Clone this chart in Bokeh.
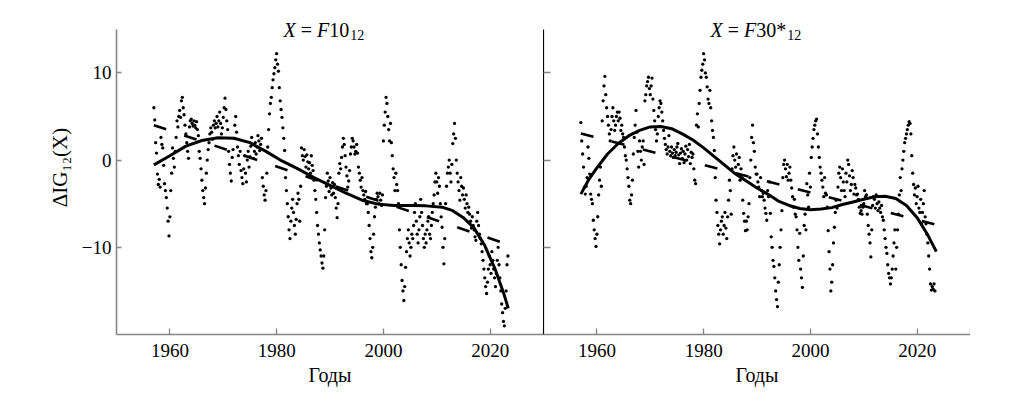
import numpy as np
from bokeh.plotting import figure
from bokeh.layouts import row
from bokeh.models import Label, FixedTicker, Range1d
from bokeh.embed import file_html
from bokeh.resources import INLINE

# ---------------- data ----------------
START_YEAR = 1957
PER_YEAR = 6   # values listed every two months

f10_values = [
    6.0, 4.6, 2.0, 0.8, -1.6, -2.8,        # 1957
    -2.2, -3.1, 2.6, 1.8, 1.4, -0.6,       # 1958
    -2.7, -3.5, -4.3, -5.5, -7.0, -8.7,    # 1959
    -6.5, -3.5, -1.5, 1.4, 0.2, -0.8,      # 1960
    1.0, 2.6, 4.5, 3.8, 5.0, 5.7,          # 1961
    4.9, 6.8, 7.2, 6.0, 5.2, 4.0,          # 1962
    3.0, 2.0, 1.0, 0.2, 3.8, 4.5,          # 1963
    4.7, 4.2, 3.9, 4.5, 4.0, 3.7,          # 1964
    4.4, 3.5, 2.8, 1.0, 0.2, -1.0,         # 1965
    -2.3, -3.5, -4.3, -5.0, -3.2, -1.5,    # 1966
    0.0, 1.2, 2.0, 3.0, 3.7, 3.2,          # 1967
    2.4, 4.0, 4.5, 3.7, 4.2, 5.0,          # 1968
    3.8, 4.5, 5.5, 4.2, 3.0, 3.7,          # 1969
    4.9, 6.0, 7.1, 5.8, 4.5, 3.5,          # 1970
    1.0, -0.5, -1.5, -2.4, 0.3, 1.2,       # 1971
    2.5, 4.0, 5.0, 3.2, 1.5, 0.5,          # 1972
    -0.5, 1.0, -1.2, -2.0, -2.7, -1.0,     # 1973
    0.5, -1.5, -2.5, 0.0, 1.0, -0.8,       # 1974
    0.4, 1.6, 2.6, 1.8, 0.2, 1.0,          # 1975
    2.0, 0.7, 1.5, 2.8, 2.2, 1.1,          # 1976
    1.8, 2.5, -2.0, -3.0, -4.0, -4.6,      # 1977
    -3.5, -1.5, 1.5, 3.5, 5.3, 6.5,        # 1978
    7.2, 8.3, 9.2, 9.9, 10.6, 11.5,        # 1979
    12.2, 11.0, 10.2, 8.3, 6.8, 5.8,       # 1980
    4.9, 3.7, 2.5, 1.1, -2.0, -3.5,        # 1981
    -5.0, -6.5, -8.0, -9.0, -7.0, -5.5,    # 1982
    -4.5, -6.0, -7.5, -8.5, -6.8, -5.0,    # 1983
    -3.8, -4.5, -7.0, -3.0, 1.4, 0.5,      # 1984
    0.0, 1.2, 0.4, -0.8, 0.6, -0.2,        # 1985
    -1.0, -0.3, -1.5, 0.5, -0.6, -1.2,     # 1986
    -2.3, -3.5, -4.5, -6.0, -7.5, -8.5,    # 1987
    -9.5, -10.3, -11.0, -11.8, -12.4, -11.0,  # 1988
    -8.0, -4.3, -3.0, -1.5, -2.4, -3.6,    # 1989
    -2.0, -3.2, -4.0, -2.6, -3.8, -2.8,    # 1990
    -4.3, -5.5, -6.6, -5.0, -1.5, -0.4,    # 1991
    -1.0, 0.3, 1.5, 2.5, 1.8, 0.5,         # 1992
    -0.8, -1.8, -3.1, -2.4, -1.2, 0.7,     # 1993
    1.5, 2.5, 2.2, 1.5, 0.7, 1.0,          # 1994
    1.8, 0.8, -0.8, -1.5, -2.3, -3.1,      # 1995
    -2.0, -3.5, -4.0, -4.5, -3.6, -5.0,    # 1996
    -5.0, -6.0, -7.5, -9.0, -10.5, -11.2,  # 1997
    -10.0, -8.5, -6.5, -5.4, -4.5, -3.8,   # 1998
    -4.2, -5.0, -3.8, -4.6, -5.2, -4.0,    # 1999
    2.2, 4.0, 5.5, 7.2, 6.5, 5.0,          # 2000
    3.5, 2.2, 4.2, 2.0, 0.5, -1.0,         # 2001
    -2.0, -3.5, -1.5, -2.8, -3.5, -5.0,    # 2002
    -8.0, -10.0, -12.0, -13.8, -15.0, -16.1,  # 2003
    -14.5, -12.3, -10.5, -9.0, -8.0, -9.5,    # 2004
    -11.0, -10.0, -8.5, -9.0, -7.5, -6.0,     # 2005
    -5.0, -7.0, -8.5, -9.5, -8.0, -6.5,    # 2006
    -4.5, -6.0, -7.5, -9.0, -10.0, -8.5,   # 2007
    -9.5, -8.0, -7.0, -6.5, -8.5, -9.0,    # 2008
    -7.5, -6.0, -5.0, -4.0, -2.5, -1.5,    # 2009
    -2.5, -3.8, -2.0, -3.0, -5.0, -6.5,    # 2010
    -7.7, -10.0, -11.9, -9.0, -5.0, -3.0,  # 2011
    -1.5, -0.8, 0.0, -1.5, -2.5, -0.5,     # 2012
    1.9, 3.0, 4.2, 2.5, 0.0, -1.5,         # 2013
    -2.5, -3.5, -4.6, -2.0, -3.0, -4.0,    # 2014
    -3.2, -4.5, -5.5, -4.0, -5.0, -6.0,    # 2015
    -5.4, -6.2, -7.0, -7.8, -6.5, -7.5,    # 2016
    -8.0, -8.8, -9.2, -7.0, -6.0, -7.5,    # 2017
    -8.5, -9.0, -9.6, -10.5, -11.5, -12.5,    # 2018
    -13.5, -14.5, -15.3, -14.0, -12.5, -11.0, # 2019
    -12.0, -13.0, -10.5, -11.5, -12.5, -13.5, # 2020
    -14.5, -13.0, -11.5, -10.0, -12.0, -13.5, # 2021
    -15.0, -16.5, -17.5, -18.5, -19.0, -17.0, # 2022
    -15.0, -12.0, -11.0,                      # 2023
]

f30_values = [
    4.3, 2.2, 0.7, -0.8, -3.1, -3.9,       # 1957
    -3.0, -2.0, 1.5, 0.2, -1.6, -3.9,      # 1958
    -4.5, -5.0, -6.9, -8.0, -9.0, -9.9,    # 1959
    -8.5, -6.5, -4.0, -2.3, -0.8, -3.0,    # 1960
    4.5, 6.8, 8.5, 9.6, 7.5, 6.0,          # 1961
    5.0, 4.0, 3.0, 2.2, 3.5, 5.0,          # 1962
    6.0, 4.5, 3.4, 4.0, 5.0, 5.5,          # 1963
    4.5, 5.5, 4.8, 3.4, 4.0, 3.0,          # 1964
    2.6, 1.5, 0.5, 0.0, -1.0, -2.0,        # 1965
    -3.0, -4.6, -5.0, -4.0, -2.3, 0.7,     # 1966
    2.6, 4.0, 5.7, 3.2, 1.0, -0.8,         # 1967
    2.2, 1.0, 0.0, 1.5, 2.2, -0.5,         # 1968
    6.8, 7.5, 8.5, 9.0, 9.5, 8.2,          # 1969
    7.5, 8.5, 9.4, 7.0, 5.7, 4.5,          # 1970
    3.5, 2.2, 3.0, 5.0, 6.0, 6.8,          # 1971
    6.5, 5.5, 4.5, 3.4, 2.5, 1.8,          # 1972
    1.2, 0.7, 1.5, 2.8, 1.0, 0.5,          # 1973
    1.5, 0.8, 0.3, 1.2, 0.5, 0.9,          # 1974
    1.5, 1.9, 0.6, -0.4, 0.8, 1.3,         # 1975
    0.2, 1.0, -0.3, 0.7, 1.6, 0.0,         # 1976
    1.2, 0.4, 1.8, -0.4, 0.9, 0.3,         # 1977
    0.7, -1.0, -2.3, -2.7, 4.0, 5.3,       # 1978
    3.8, 6.5, 8.0, 9.5, 10.3, 11.0,        # 1979
    12.2, 11.5, 10.0, 9.5, 8.4, 7.0,       # 1980
    6.5, 8.0, 6.0, 4.5, 3.4, 2.6,          # 1981
    1.1, -2.0, -4.6, -6.0, -7.5, -8.5,     # 1982
    -9.6, -8.0, -7.0, -6.5, -8.5, -7.5,    # 1983
    -6.0, -7.8, -9.0, -6.5, -4.6, -2.3,    # 1984
    -3.5, -6.2, -1.0, 0.5, 1.5, 0.0,       # 1985
    -0.8, 0.7, -1.6, -0.5, 0.3, -2.3,      # 1986
    -1.0, -2.0, -4.6, -6.1, -7.0, -8.1,    # 1987
    -7.0, -8.0, -6.5, -5.0, -2.0, 0.0,     # 1988
    2.6, 4.0, 2.0, 1.0, -0.8, -1.6,        # 1989
    -1.6, -2.5, -3.1, -4.2, -2.0, -3.5,    # 1990
    -4.2, -3.8, -4.6, -5.5, -6.1, -6.9,    # 1991
    -3.5, -4.2, -2.5, -6.1, -8.8, -10.0,   # 1992
    -11.5, -12.2, -13.5, -15.0, -16.0, -16.8,  # 1993
    -14.0, -12.0, -10.0, -8.0, -5.8, -2.0,     # 1994
    -0.5, 0.0, -1.0, -1.9, -0.5, -2.3,     # 1995
    -1.5, -0.8, -2.3, -3.2, -4.2, -5.4,    # 1996
    -4.5, -6.2, -6.5, -8.0, -10.0, -11.5,  # 1997
    -8.4, -12.5, -13.5, -14.6, -11.0, -7.5,  # 1998
    -6.2, -8.0, -2.7, -4.0, -5.4, -1.5,    # 1999
    -3.1, 0.3, 1.5, 2.5, 3.5, 4.0,         # 2000
    4.5, 4.7, 3.0, 1.5, 0.3, -0.8,         # 2001
    -1.5, -2.3, -3.1, -4.2, -2.0, -3.8,    # 2002
    -4.0, -5.4, -8.1, -10.5, -12.5, -15.0, # 2003
    -14.0, -12.0, -9.5, -7.7, -6.0, -4.6,  # 2004
    -5.5, -3.1, -1.5, -0.8, -2.0, -3.5,    # 2005
    -1.0, -2.5, -3.5, -4.2, -1.5, -2.5,    # 2006
    0.0, -0.5, -1.8, -3.5, -2.8, -1.2,     # 2007
    -2.0, -3.9, -2.8, -3.2, -4.0, -3.9,    # 2008
    -4.5, -5.4, -6.1, -5.8, -6.2, -5.4,    # 2009
    -5.0, -3.5, -4.2, -4.0, -6.2, -7.5,    # 2010
    -8.5, -9.5, -11.1, -8.0, -5.2, -4.2,   # 2011
    -4.5, -5.5, -4.0, -5.0, -5.8, -4.8,    # 2012
    -5.5, -6.0, -5.2, -6.5, -6.9, -8.0,    # 2013
    -9.0, -10.0, -10.7, -12.0, -13.0, -13.5,   # 2014
    -14.2, -13.5, -12.5, -11.0, -9.5, -8.0,    # 2015
    -12.5, -10.0, -8.0, -6.2, -4.0, -2.0,      # 2016
    -3.5, -1.0, 0.0, 1.0, 2.0, 2.5,        # 2017
    3.0, 3.5, 4.0, 4.4, 4.2, 3.0,          # 2018
    0.5, -1.5, -2.8, -4.0, -3.2, -5.0,     # 2019
    -4.2, -3.0, -5.5, -6.0, -4.5, -7.3,    # 2020
    -6.0, -5.0, -3.5, -6.5, -7.3, -8.5,    # 2021
    -9.5, -11.0, -12.5, -14.2, -14.9, -14.5,   # 2022
    -14.8, -14.2, -15.0,                       # 2023
]

# smooth (polynomial) fit curves, read at knots
f10_curve_years = [1957, 1960, 1963, 1966, 1969, 1972, 1975, 1978, 1981, 1984, 1987,
                   1990, 1993, 1996, 1999, 2002, 2005, 2008, 2011, 2013, 2015, 2017,
                   2019, 2021, 2022.5, 2023.4]
f10_curve_values = [-0.55, 0.5, 1.6, 2.25, 2.55, 2.5, 2.0, 1.0, -0.1, -1.0, -2.0,
                    -2.9, -3.8, -4.6, -5.05, -5.2, -5.2, -5.25, -5.4, -5.8, -6.6, -7.8,
                    -9.8, -12.6, -15.2, -17.0]

f30_curve_years = [1957, 1958.5, 1960, 1962, 1964, 1966, 1968, 1970, 1972, 1974, 1976,
                   1978, 1980, 1982, 1984, 1986, 1988, 1990, 1992, 1994, 1996, 1998,
                   2000, 2002, 2004, 2006, 2008, 2010, 2012, 2014, 2016, 2018, 2020,
                   2022, 2023.6]
f30_curve_values = [-3.9, -2.2, -0.9, 0.7, 1.9, 2.8, 3.4, 3.8, 3.85, 3.6, 3.0,
                    2.3, 1.4, 0.4, -0.6, -1.6, -2.4, -3.2, -3.9, -4.7, -5.2, -5.55,
                    -5.7, -5.6, -5.45, -5.1, -4.8, -4.5, -4.2, -4.15, -4.4, -5.2, -6.6,
                    -8.6, -10.5]

# linear trends (dashed)
trend_years = [1957, 2023.5]
f10_trend = [4.0, -9.7]
f30_trend = [3.05, -7.4]

x_ticks = [1960, 1980, 2000, 2020]
y_ticks = [-10, 0, 10]
y_tick_labels = {-10: "\u221210", 0: "0", 10: "10"}
x_label = "Годы"
y_label = "\u0394IG\u2081\u2082(X)"

# ---------------- styling ----------------
SERIF = "Liberation Serif"
AXIS_GREY = "#858585"
Y_LO, Y_HI = -20, 15          # value range of the axes
Y_TOP = 18.3                  # frame reaches up to the canvas top (room for titles)
# advance widths (em) of Liberation Serif glyphs used in the hand-set titles
EM = {"X": 0.611, "F": 0.611, "=": 0.564, "10": 1.0, "30*": 1.5, "12": 1.0}
SPACE = 0.25


def make_panel(values, cx, cy, trend, left_border):
    p = figure(frame_width=427, frame_height=334,
               x_range=Range1d(1950, 2030), y_range=Range1d(Y_LO, Y_TOP),
               output_backend="svg", toolbar_location=None,
               min_border_left=left_border, min_border_right=0,
               min_border_top=0, min_border_bottom=62,
               outline_line_color=None, background_fill_color="white",
               border_fill_color="white")
    p.xgrid.visible = False
    p.ygrid.visible = False

    xs = START_YEAR + np.arange(len(values)) / PER_YEAR
    p.scatter(xs, values, size=3.3, color="black", line_color=None)
    p.line(trend_years, trend, line_color="black", line_width=2.6, line_dash="13 19")
    p.line(cx, cy, line_color="black", line_width=3)

    xa = p.xaxis[0]
    xa.ticker = FixedTicker(ticks=x_ticks, minor_ticks=[2030])
    xa.axis_line_color = AXIS_GREY
    xa.axis_line_width = 1.6
    xa.major_tick_line_color = AXIS_GREY
    xa.minor_tick_line_color = AXIS_GREY
    xa.major_tick_line_width = 1.3
    xa.minor_tick_line_width = 1.3
    xa.major_tick_in = 6
    xa.major_tick_out = 0
    xa.minor_tick_in = 6
    xa.minor_tick_out = 0
    xa.major_label_text_font = SERIF
    xa.major_label_text_font_size = "19px"
    xa.major_label_text_color = "black"
    xa.major_label_standoff = 9
    xa.axis_label = x_label
    xa.axis_label_text_font = SERIF
    xa.axis_label_text_font_size = "20px"
    xa.axis_label_text_font_style = "normal"
    xa.axis_label_text_color = "black"
    xa.axis_label_standoff = 4

    ya = p.yaxis[0]
    ya.bounds = (Y_LO, Y_HI)
    ya.major_tick_out = 0
    ya.minor_tick_out = 0
    return p


def title(p, parts):
    """parts: (text, italic, subscript, leading gap in em)"""
    dx = -46.5
    for text, italic, sub, gap in parts:
        size = 14 if sub else 20
        dx += gap * 20 + (1 if sub else 0)
        p.add_layout(Label(x=1990, y=Y_HI, x_offset=dx, y_offset=-6 if sub else -1,
                           text=text, text_font=SERIF, text_font_size=f"{size}px",
                           text_font_style="italic" if italic else "normal",
                           text_color="black", text_align="left",
                           text_baseline="alphabetic"))
        dx += EM[text] * size


p1 = make_panel(f10_values, f10_curve_years, f10_curve_values, f10_trend, 116)
p2 = make_panel(f30_values, f30_curve_years, f30_curve_values, f30_trend, 0)

# left panel y axis: grey, labelled
ya1 = p1.yaxis[0]
ya1.ticker = FixedTicker(ticks=y_ticks)
ya1.axis_line_color = AXIS_GREY
ya1.axis_line_width = 1.6
ya1.major_tick_line_color = AXIS_GREY
ya1.major_tick_line_width = 1.3
ya1.major_tick_in = 5
ya1.minor_tick_in = 0
ya1.major_label_overrides = y_tick_labels
ya1.major_label_text_font = SERIF
ya1.major_label_text_font_size = "19px"
ya1.major_label_text_color = "black"
ya1.major_label_standoff = 5
ya1.axis_label = y_label
ya1.axis_label_text_font = SERIF
ya1.axis_label_text_font_size = "21px"
ya1.axis_label_text_font_style = "normal"
ya1.axis_label_text_color = "black"
ya1.axis_label_standoff = 7

# right panel y axis: black line, unlabelled ticks
ya2 = p2.yaxis[0]
ya2.ticker = FixedTicker(ticks=[], minor_ticks=y_ticks)
ya2.axis_line_color = "black"
ya2.axis_line_width = 1.2
ya2.minor_tick_line_color = AXIS_GREY
ya2.minor_tick_line_width = 1.3
ya2.minor_tick_in = 7
ya2.major_label_standoff = 0

title(p1, [("X", True, False, 0), ("=", False, False, SPACE), ("F", True, False, SPACE),
           ("10", False, False, 0), ("12", False, True, 0)])
title(p2, [("X", True, False, 0), ("=", False, False, SPACE), ("F", True, False, SPACE),
           ("30*", False, False, 0), ("12", False, True, 0)])

layout = row(p1, p2)
open("out.html", "w").write(file_html(layout, INLINE))
